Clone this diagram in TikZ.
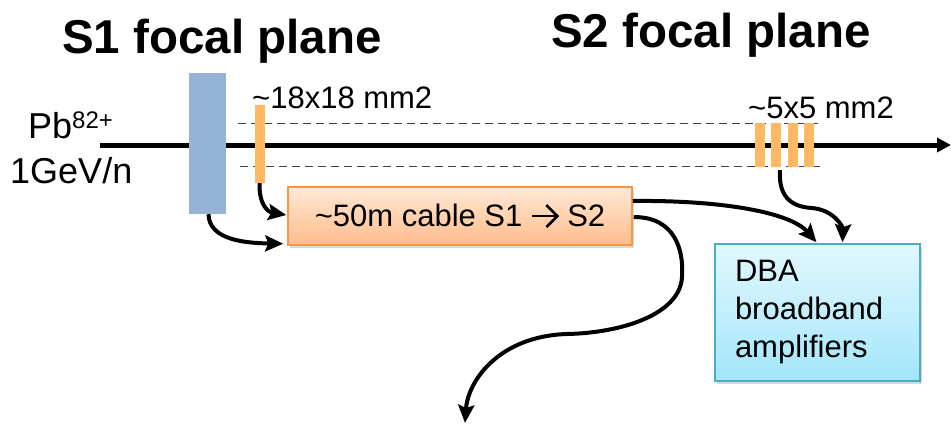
\documentclass[tikz,border=0pt]{standalone}
\usepackage{fontspec}
\setmainfont{Liberation Sans}
\usetikzlibrary{arrows.meta,shadows,calc}

\definecolor{detblue}{HTML}{95B3D7}
\definecolor{stripor}{HTML}{FFB962}
\definecolor{cabletop}{HTML}{FFE8D6}
\definecolor{cablebot}{HTML}{FFBD8A}
\definecolor{cableline}{HTML}{F79646}
\definecolor{dbatop}{HTML}{E2F8FE}
\definecolor{dbabot}{HTML}{A3E6FA}
\definecolor{dbaline}{HTML}{4BACC6}
\definecolor{dashgray}{HTML}{404040}

% a bold chevron arrow used inside running text
\newcommand{\fatarrow}{\tikz[x=1pt,y=1pt,baseline=0pt]{%
  \draw[line width=2.6pt] (0,10) -- (24,10);
  \draw[line width=2.6pt, line join=miter] (14,21) -- (25,10) -- (14,-1);}}

\begin{document}
\begin{tikzpicture}[x=1pt,y=-1pt,
  title/.style={font=\fontsize{47.5}{50}\selectfont\bfseries, inner sep=0pt, anchor=base west},
  lbl/.style={font=\fontsize{31}{38}\selectfont, inner sep=0pt, anchor=base west},
  biglbl/.style={font=\fontsize{36}{40}\selectfont, inner sep=0pt, anchor=base west},
  beam/.style={line width=5pt, -{Triangle[length=14pt,width=14pt]}},
  envelope/.style={line width=0.9pt, dashgray, dash pattern=on 8pt off 5pt},
  strip/.style={fill=stripor, draw=none, inner sep=0pt, minimum width=10pt},
  conn/.style={line width=4pt, -{Stealth[length=18pt,width=16pt,inset=3pt]}},
  boxshadow/.style={drop shadow={opacity=0.3, shadow xshift=2pt, shadow yshift=-3pt}},
]
\useasboundingbox (0,0) rectangle (951,424);

% titles
\node[title] (t1) at (62,53) {S1 focal plane};
\node[title] (t2) at (551,47) {S2 focal plane};

% beam labels
\node[biglbl] (pb) at (28,138) {Pb\raisebox{10pt}{\fontsize{24}{24}\selectfont 82+}};
\node[biglbl] (gev) at (10,183) {1GeV/n};

% beam envelope and beam axis
\coordinate (du1) at (238,123); \coordinate (du2) at (818,123);
\coordinate (dl1) at (240,166); \coordinate (dl2) at (820,166);
\draw[envelope] (du1) -- (du2);
\draw[envelope] (dl1) -- (dl2);
\coordinate (bs) at (100,145); \coordinate (be) at (951,145);
\draw[beam] (bs) -- (be);

% S1 detectors
\node[fill=detblue, inner sep=0pt, minimum width=37pt, minimum height=141pt] (q1) at (207.5,143.5) {};
\node[strip, minimum height=78pt] (s1) at (259.5,144) {};
\node[lbl] (l18) at (252,108) {\textasciitilde18x18 mm2};

% S2 detectors
\node[strip, minimum height=44pt] (s2a) at (760,145) {};
\node[strip, minimum height=44pt] (s2b) at (776,145) {};
\node[strip, minimum height=44pt] (s2c) at (793,145) {};
\node[strip, minimum height=44pt] (s2d) at (809,145) {};
\node[lbl] (l5) at (748,118) {\textasciitilde5x5 mm2};

% cable and amplifier boxes
\node[boxshadow, draw=cableline, line width=1.5pt, top color=cabletop, bottom color=cablebot,
      minimum width=344pt, minimum height=58pt, inner sep=0pt,
      font=\fontsize{31}{38}\selectfont] (cable) at (460,216) {\textasciitilde50m cable S1 \fatarrow\ S2};
\node[boxshadow, draw=dbaline, line width=1.5pt, top color=dbatop, bottom color=dbabot,
      minimum width=205pt, minimum height=137pt, inner xsep=20pt, inner ysep=0pt,
      text width=165pt, align=left,
      font=\fontsize{31}{38}\selectfont] (dba) at (817.5,312.5) {DBA\\broadband\\amplifiers};

% signal connections
\draw[conn] ([xshift=1pt]q1.south) .. controls (209,240) and (245,243) .. ($(cable.south west)+(-4,-2)$);
\draw[conn] (s1.south) .. controls (259,205) and (268,212) .. ($(cable.west)+(-1,-1)$);
\draw[conn] ($(cable.east)+(0,-15)$) .. controls (720,200) and (790,212) .. ($(dba.north)+(-1,-1)$);
\coordinate (k4) at (812,208);
\draw[conn] ($(s2b.south)+(4,3)$) .. controls (778,200) and (795,207) .. (k4)
            .. controls (835,210) and (843,228) .. ($(dba.north)+(25,-1)$);
\coordinate (k5a) at (682,277);
\coordinate (k5b) at (567,334);
\coordinate (out) at (465,423);
\draw[conn] ($(cable.east)+(1,1)$) .. controls (675,217) and (684,250) .. (k5a)
            .. controls (680,315) and (620,333) .. (k5b)
            .. controls (500,336) and (468,380) .. (out);
\end{tikzpicture}
\end{document}
